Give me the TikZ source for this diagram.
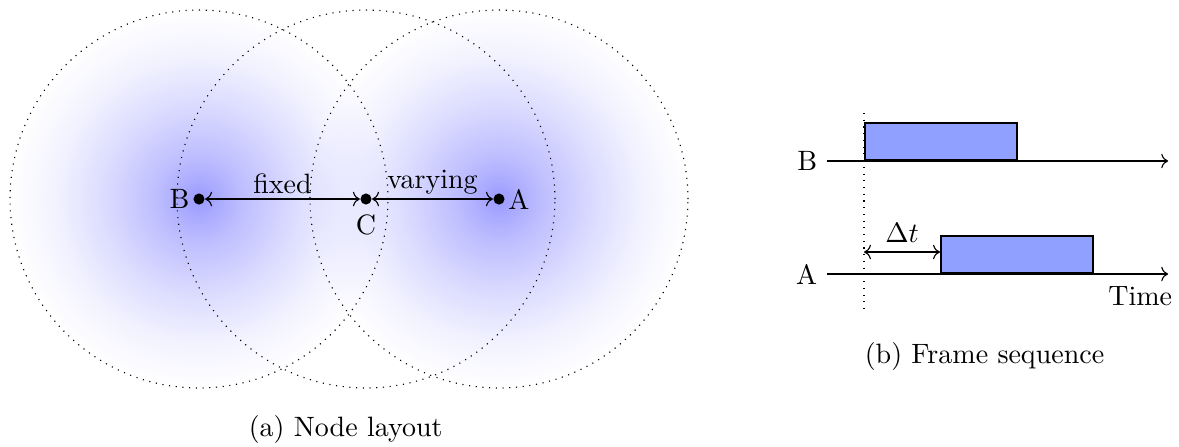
\documentclass[tikz,border=0pt]{standalone}
\usepackage{amsmath,amssymb}
\usepackage{xcolor}
\usetikzlibrary{arrows.meta,positioning,fadings}

\definecolor{framefill}{RGB}{143,160,255}
\pgfdeclareradialshading{coverfadeshade}{\pgfpoint{0bp}{0bp}}{%
  color(0bp)=(transparent!60); color(2.5bp)=(transparent!67);
  color(6bp)=(transparent!75); color(12.5bp)=(transparent!86);
  color(19bp)=(transparent!95); color(25bp)=(transparent!100);
  color(50bp)=(transparent!100)}
\pgfdeclarefading{coverfade}{\pgfuseshading{coverfadeshade}}
\tikzset{
  station/.style={circle,fill,inner sep=1.4pt},
  frame/.style={draw,thick,fill=framefill,anchor=south west,inner sep=0pt,minimum width=1.907cm,minimum height=0.464cm}
}

\begin{document}
\begin{tikzpicture}
\useasboundingbox (-2.497,-3.099) rectangle (12.296,2.497);
% (a) node layout
\foreach \x in {0,3.764}
  \fill[blue,path fading=coverfade] (\x,0) circle (2.371);
\foreach \x in {0,2.095,3.764}
  \draw[dotted] (\x,0) circle (2.371);
\node[station,label={[inner sep=1pt]left:B}] (B) at (0,0) {};
\node[station,label=below:C] (C) at (2.095,0) {};
\node[station,label={[inner sep=1pt]right:A}] (A) at (3.764,0) {};
\draw[<->] (B) -- (C) node[midway,above,inner sep=1.5pt] {fixed};
\draw[<->] (C) -- (A) node[midway,above,inner sep=1.5pt] {varying};
\node (capa) at (1.84,-2.886) {(a) Node layout};

% (b) frame sequence
\coordinate (bstart) at (7.88,0.477);
\coordinate (bend) at (12.16,0.477);
\coordinate (astart) at (7.88,-0.941);
\coordinate (aend) at (12.16,-0.941);
\draw[->] (bstart) -- (bend);
\draw[->] (astart) -- (aend);
\node[left] (lb) at (bstart) {B};
\node[left] (la) at (astart) {A};
\node[frame] (fb) at (8.344,0.477) {};
\node[frame] (fa) at (9.297,-0.941) {};
\coordinate (dtop) at (8.344,1.079);
\coordinate (dbot) at (8.344,-1.368);
\draw[dotted] (dtop) -- (dbot);
\coordinate (dmark) at (8.344,-0.665);
\draw[<->] (dmark) -- (dmark -| fa.west) node[midway,above] {$\Delta t$};
\node[below,yshift=-1pt] (time) at (11.81,-0.941) {Time};
\node (capb) at (9.856,-1.970) {(b) Frame sequence};
\end{tikzpicture}
\end{document}
